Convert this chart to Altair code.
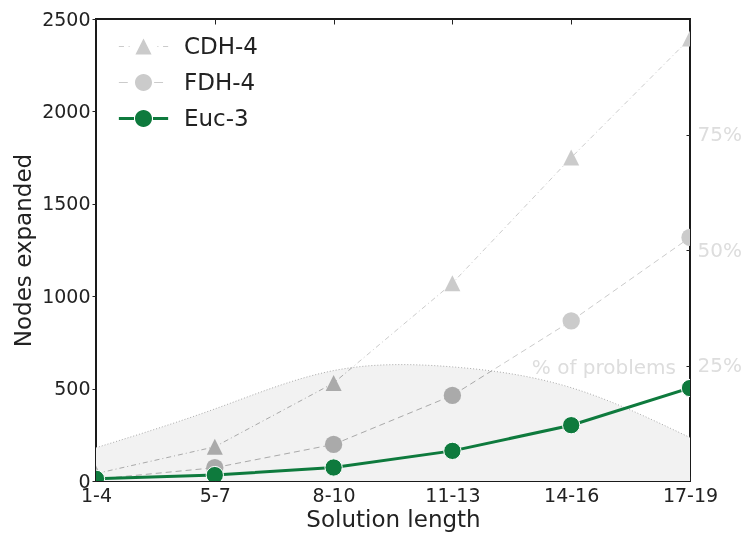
import altair as alt
import pandas as pd

# ---- data ----
lengths = ["1-4", "5-7", "8-10", "11-13", "14-16", "17-19"]
series_names = ["CDH-4", "FDH-4", "Euc-3"]
cdh_values = [40, 185, 530, 1070, 1750, 2395]
fdh_values = [10, 72, 198, 463, 866, 1318]
euc_values = [12, 32, 73, 163, 302, 503]
share_values = [0.072, 0.156, 0.239, 0.247, 0.202, 0.094]
share_label = ["% of problems"]
left_ticks = [0, 500, 1000, 1500, 2000, 2500]
right_ticks = [0.25, 0.5, 0.75]

rows = []
for name, vals in zip(series_names, [cdh_values, fdh_values, euc_values]):
    for l, v in zip(lengths, vals):
        rows.append({"series": name, "length": l, "nodes": v})
df = pd.DataFrame(rows)
share_df = pd.DataFrame({"length": lengths, "share": share_values})
label_df = pd.DataFrame({"length": [lengths[-1]], "share": [0.245], "text": share_label})

FONT = "DejaVu Sans"
INK = "#222222"
GRAY = "#cbcbcb"
GREEN = "#0e7a3d"
CURVE = "natural"

x_scale = alt.Scale(type="point", domain=lengths, padding=0)
y_nodes = alt.Scale(domain=[0, 2500], nice=False)
y_share = alt.Scale(domain=[0, 1], nice=False)

bottom_axis = alt.Axis(orient="bottom", offset=-5, tickSize=5, tickColor=INK, domain=False, grid=False,
                       labelAngle=0, labelPadding=5, labelFontSize=19, labelColor=INK, labelFont=FONT,
                       title="Solution length", titleFontSize=23, titleFontWeight="normal",
                       titleColor=INK, titleFont=FONT, titlePadding=3)
top_axis = alt.Axis(orient="top", offset=-5, tickSize=5, tickColor=INK, domain=False, grid=False,
                    labels=False, title=None)
left_axis = alt.Axis(orient="left", values=left_ticks, format="d", tickSize=4, tickColor=INK, domain=False,
                     grid=False, labelPadding=2, labelFontSize=19, labelColor=INK, labelFont=FONT,
                     title="Nodes expanded", titleFontSize=23, titleFontWeight="normal",
                     titleColor=INK, titleFont=FONT, titlePadding=6)
right_axis = alt.Axis(orient="right", values=right_ticks, format=".0%", offset=-4, tickSize=4,
                      tickColor=INK, domain=False, grid=False, labelPadding=7, labelFontSize=20,
                      labelColor="#dddddd", labelFont=FONT, title=None)


def X(axis=None):
    return alt.X("length:N", scale=x_scale, axis=axis)


def YN(axis=None):
    return alt.Y("nodes:Q", scale=y_nodes, axis=axis)


def YS(axis=None):
    return alt.Y("share:Q", scale=y_share, axis=axis)


TRI = "M0,-1L-1,1L1,1Z"


def rect(x0, x1, h):
    return f"M{x0},{-h}H{x1}V{h}H{x0}Z"


CIRC = "M1,0A1,1,0,1,1,-1,0A1,1,0,1,1,1,0Z"
legend_paths = [
    rect(-2.9, -2.3, 0.06) + rect(-1.75, -1.63, 0.06) + "M0,-0.95L-0.95,0.95L0.95,0.95Z"
    + rect(1.63, 1.75, 0.06) + rect(2.3, 2.9, 0.06),
    rect(-2.9, -1.85, 0.06) + CIRC + rect(1.25, 2.3, 0.06),
    rect(-2.9, -1.12, 0.18) + CIRC + rect(1.12, 2.9, 0.18),
]

area_fill = alt.Chart(share_df).mark_area(color="#f7f7f7", interpolate=CURVE).encode(
    x=X(bottom_axis), y=YS(right_axis))


def series_layers(name, dash, shape, size, width, color, stroke=None):
    base = alt.Chart(df).transform_filter(alt.datum.series == name)
    line_kw = dict(color=color, strokeWidth=width, clip=True)
    if dash:
        line_kw["strokeDash"] = dash
    line = base.mark_line(**line_kw).encode(x=X(), y=YN(left_axis if name == "CDH-4" else None))
    pt_kw = dict(shape=shape, filled=True, size=size, color=color, opacity=1, clip=True)
    if stroke:
        pt_kw["stroke"] = stroke
        pt_kw["strokeWidth"] = 1
    else:
        pt_kw["strokeWidth"] = 0
    pts = base.mark_point(**pt_kw).encode(x=X(), y=YN())
    return [line, pts]


cdh = series_layers("CDH-4", [5, 3, 1, 3], TRI, 256, 1, GRAY)
fdh = series_layers("FDH-4", [6, 4], "circle", 300, 1, GRAY)
burn = alt.Chart(share_df).mark_area(color="#9c9c9c", interpolate=CURVE, blend="color-burn").encode(
    x=X(top_axis), y=YS())
edge = alt.Chart(share_df).mark_line(color="#aaaaaa", strokeWidth=1, strokeDash=[1, 2],
                                     interpolate=CURVE).encode(x=X(), y=YS())
euc = series_layers("Euc-3", None, "circle", 300, 3, GREEN, stroke="white")
note = alt.Chart(label_df).mark_text(align="right", baseline="middle", dx=-14, fontSize=20, font=FONT,
                                     color="#dddddd").encode(x=X(), y=YS(), text="text:N")

leg = alt.Legend(title=None, orient="none", legendX=20, legendY=16, padding=0, symbolSize=289,
                 symbolOffset=16, labelOffset=29, labelFontSize=23, labelFont=FONT, labelColor=INK,
                 rowPadding=12, symbolStrokeWidth=0, symbolOpacity=1)
legend_layer = alt.Chart(df).transform_filter("false").mark_point(filled=True, opacity=1, strokeWidth=0).encode(
    x=X(), y=YN(),
    shape=alt.Shape("series:N", scale=alt.Scale(domain=series_names, range=legend_paths), legend=leg),
    color=alt.Color("series:N", scale=alt.Scale(domain=series_names, range=[GRAY, GRAY, GREEN]), legend=leg),
)

chart = alt.layer(area_fill, *cdh, *fdh, burn, edge, *euc, note, legend_layer).resolve_scale(
    y="independent").resolve_axis(x="independent", y="independent").properties(
    width=594, height=462,
    padding={"left": 96, "top": 19, "right": 54, "bottom": 53},
    autosize=alt.AutoSizeParams(type="none"),
    background="white",
).configure(font=FONT).configure_view(stroke="#1a1a1a", strokeWidth=2)

chart.save("out.html", embed_options={"renderer": "svg", "actions": False})
